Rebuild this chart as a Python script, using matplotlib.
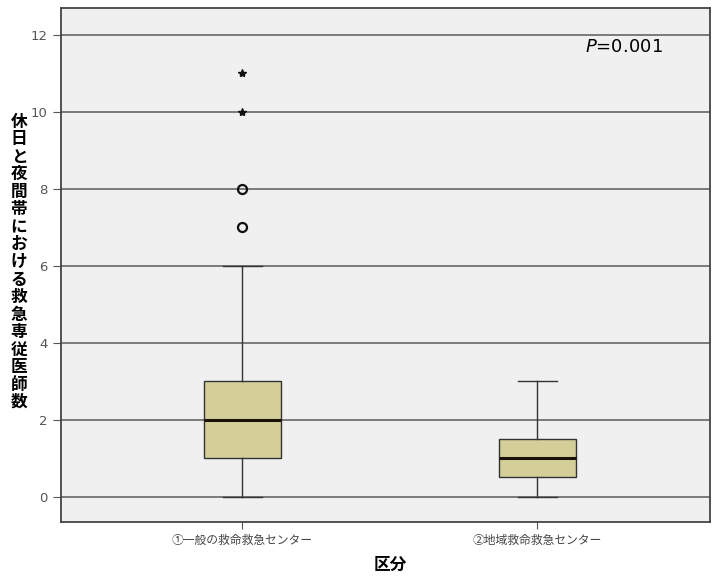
import matplotlib.pyplot as plt

plt.rcParams['font.family'] = ['Noto Sans CJK JP', 'DejaVu Sans']

# 箱ひげ図の統計値
groups = ['①一般の救命救急センター', '②地域救命救急センター']
whislo = [0, 0]
q1 = [1, 0.5]
med = [2, 1]
q3 = [3, 1.5]
whishi = [6, 3]
outliers_circle = [[7, 8], []]
outliers_star = [[10, 11], []]
yticks = [0, 2, 4, 6, 8, 10, 12]
ylabel = '休日と夜間帯における救急専従医師数'
xlabel = '区分'
ptext = '$P$=0.001'

fig = plt.figure(figsize=(7.13, 5.78), dpi=100)
ax = fig.add_axes([61/713, 56/578, 649/713, 514/578])
ax.set_facecolor('#f0f0f0')

stats = []
for i in range(len(groups)):
    stats.append({'whislo': whislo[i], 'q1': q1[i], 'med': med[i], 'q3': q3[i],
                  'whishi': whishi[i], 'fliers': []})

positions = [1, 2]
ax.bxp(stats, positions=positions, widths=0.26, patch_artist=True, showfliers=False,
       boxprops=dict(facecolor='#d4cf98', edgecolor='#333333', linewidth=1.0),
       medianprops=dict(color='#1a1208', linewidth=2.2),
       whiskerprops=dict(color='#333333', linewidth=1.0),
       capprops=dict(color='#333333', linewidth=1.0), capwidths=0.13, zorder=3)

for i, p in enumerate(positions):
    if outliers_circle[i]:
        ax.plot([p] * len(outliers_circle[i]), outliers_circle[i], 'o', mfc='none',
                mec='#111111', mew=1.6, ms=6.5, zorder=4)
    if outliers_star[i]:
        ax.plot([p] * len(outliers_star[i]), outliers_star[i], '*', color='#111111',
                ms=6, zorder=4)

ax.set_xlim(0.385, 2.585)
ax.set_ylim(-0.66, 12.7)
ax.set_yticks(yticks)
ax.set_yticklabels([str(t) for t in yticks], fontsize=9.5, color='#555555',
                   family=['DejaVu Sans'])
ax.set_xticks(positions)
ax.set_xticklabels(groups, fontsize=8.5, color='#444444')
ax.tick_params(axis='y', length=6, color='#555555')
ax.tick_params(axis='x', length=5, color='#555555')
ax.grid(axis='y', color='#666666', linewidth=1.2, zorder=1)
ax.set_axisbelow(True)
for s in ax.spines.values():
    s.set_color('#444444')
    s.set_linewidth(1.3)

fig.text(19/713, 1 - 262/578, '\n'.join(ylabel), ha='center', va='center',
         fontsize=12, fontweight='bold', linespacing=0.965)
fig.text(390/713, 1 - 565/578, xlabel, ha='center', va='center', fontsize=12,
         fontweight='bold')
ax.text(0.807, 0.924, ptext, transform=ax.transAxes, ha='left', va='center',
        fontsize=13, family=['DejaVu Sans'])

fig.savefig('out.png', dpi=100)
